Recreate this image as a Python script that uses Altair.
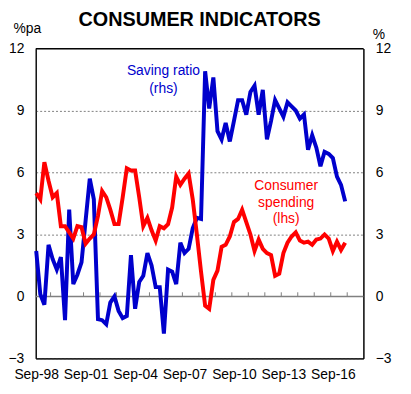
import altair as alt
import pandas as pd

# Quarterly data, Sep-98 .. Jun-17
quarters = pd.date_range("1998-09-01", periods=76, freq="3MS").strftime("%Y-%m-%d").tolist()

spending = [5.0, 4.7, 6.5, 5.6, 4.8, 5.0, 3.4, 3.4, 3.1, 2.8,
            3.4, 3.35, 2.55, 2.8, 3.0, 3.9, 5.1, 4.8, 4.2, 3.5,
            3.5, 4.8, 6.2, 6.1, 6.1, 4.8, 3.4, 3.8, 3.2, 2.7,
            3.4, 3.3, 3.5, 4.3, 5.8, 5.4, 5.7, 5.95, 4.7, 3.0,
            1.2, -0.45, -0.6, 0.8, 1.25, 2.4, 2.5, 2.9, 3.6, 3.75,
            4.2, 3.6, 3.0, 2.2, 2.75, 2.3, 2.1, 2.0, 1.0, 1.1,
            2.1, 2.6, 2.9, 3.1, 2.7, 2.6, 2.65, 2.5, 2.75, 2.8,
            3.0, 2.8, 2.2, 2.65, 2.25, 2.6]

saving = [2.2, 0.1, -0.4, 2.5, 1.8, 1.3, 1.9, -1.15, 4.2, 0.6,
          1.05, 1.65, 3.7, 5.7, 4.7, -1.1, -1.15, -1.35, -0.3, 0.0,
          -0.7, -1.05, -0.95, 2.0, -0.6, 0.7, 1.0, 2.1, 1.5, 0.45,
          0.45, -1.8, 1.3, 1.2, 0.6, 2.6, 2.1, 2.3, 3.3, 3.8,
          3.75, 10.9, 9.1, 10.6, 8.0, 7.6, 8.4, 7.5, 8.5, 9.5,
          9.5, 8.8, 9.9, 10.2, 8.8, 10.0, 7.6, 8.5, 9.5, 9.1,
          8.7, 9.4, 9.2, 9.0, 8.6, 8.8, 7.1, 7.8, 7.2, 6.3,
          7.0, 6.9, 6.7, 5.8, 5.4, 4.6]

label_years = [1998, 2001, 2004, 2007, 2010, 2013, 2016]
tick_years = list(range(1999, 2018))
y_ticks = [-3, 0, 3, 6, 9, 12]

BLUE = "#0000CC"
RED = "#FF0000"
GREY = "#808080"
FONT = "Liberation Sans"

df = pd.DataFrame({"date": quarters, "spending": spending, "saving": saving})
ticks_df = pd.DataFrame({"date": [f"{y}-07-16" for y in tick_years]})
one_row = pd.DataFrame({"k": [0]})


def yscale():
    return alt.Scale(domain=[-3, 12], nice=False, zero=False)


xscale = alt.Scale(
    type="utc",
    domain=[alt.DateTime(year=1998, month=8, date=21, utc=True),
            alt.DateTime(year=2018, month=7, date=10, utc=True)],
)
xaxis = alt.Axis(
    values=[alt.DateTime(year=y, month=9, date=1, utc=True) for y in label_years],
    labelExpr="utcFormat(datum.value, '%b-%y')",
    title=None, ticks=False, grid=False,
    domain=True, domainColor="black", domainWidth=1,
    labelFontSize=14, labelColor="black", labelPadding=9,
    labelOverlap=False, labelFlush=False, labelFont=FONT,
)

X = alt.X("date:T", scale=xscale, axis=xaxis)

zero = alt.Chart(one_row).mark_rule(color=GREY, strokeWidth=1.5).encode(
    y=alt.Y(datum=0, type="quantitative", scale=yscale(), axis=None)
)

top_frame = alt.Chart(one_row).mark_rule(color="black", strokeWidth=1).encode(
    y=alt.Y(datum=12, type="quantitative", scale=yscale(), axis=None)
)

yr_ticks = alt.Chart(ticks_df).mark_rule(color=GREY, strokeWidth=1).encode(
    x=alt.X("date:T", scale=xscale, axis=xaxis),
    y=alt.Y(datum=0, type="quantitative", scale=yscale(), axis=None),
    y2=alt.Y2(datum=0.2),
)

blue_line = alt.Chart(df).mark_line(color=BLUE, strokeWidth=4).encode(
    x=X,
    y=alt.Y("saving:Q", scale=yscale(), axis=alt.Axis(
        orient="right", values=y_ticks, ticks=False, grid=False,
        domain=True, domainColor="black", domainWidth=1,
        labelFontSize=14, labelColor="black", labelPadding=12, labelFont=FONT,
        title="%", titleAngle=0, titleAlign="left", titleBaseline="alphabetic",
        titleX=9, titleY=-10, titleFontSize=14, titleFontWeight="normal",
        titleFont=FONT, titleColor="black",
    )),
)

red_line = alt.Chart(df).mark_line(color=RED, strokeWidth=4).encode(
    x=X,
    y=alt.Y("spending:Q", scale=yscale(), axis=alt.Axis(
        orient="left", values=y_ticks, ticks=False,
        domain=True, domainColor="black", domainWidth=1,
        grid=True, gridDash=[2, 2], gridColor=GREY, gridWidth=1,
        labelFontSize=14, labelColor="black", labelPadding=12, labelFont=FONT,
        title="%pa", titleAngle=0, titleAlign="left", titleBaseline="alphabetic",
        titleX=-23, titleY=-16, titleFontSize=14, titleFontWeight="normal",
        titleFont=FONT, titleColor="black",
    )),
)


def label(txt, x, y, color):
    return alt.Chart(one_row).mark_text(
        text=txt, align="center", baseline="middle", fontSize=14,
        font=FONT, color=color, fontWeight="normal",
    ).encode(x=alt.value(x), y=alt.value(y))


texts = [
    label("Saving ratio", 129, 23, BLUE),
    label("(rhs)", 129, 40.5, BLUE),
    label("Consumer", 253, 139, RED),
    label("spending", 253, 156, RED),
    label("(lhs)", 253, 172.5, RED),
]

chart = alt.layer(zero, top_frame, yr_ticks, blue_line, red_line, *texts).resolve_scale(
    y="independent"
).properties(
    width=331,
    height=313,
    title=alt.TitleParams(
        "CONSUMER INDICATORS", fontSize=20, fontWeight="bold", font=FONT,
        anchor="middle", frame="group", offset=0, dy=8, color="black",
    ),
    autosize=alt.AutoSizeParams(type="none"),
    padding={"left": 28, "top": 39, "right": 40, "bottom": 30},
).configure(
    background="white",
    view=alt.ViewConfig(stroke="black", strokeWidth=1),
)

chart.save("out.html", embed_options={"renderer": "svg", "actions": False})
